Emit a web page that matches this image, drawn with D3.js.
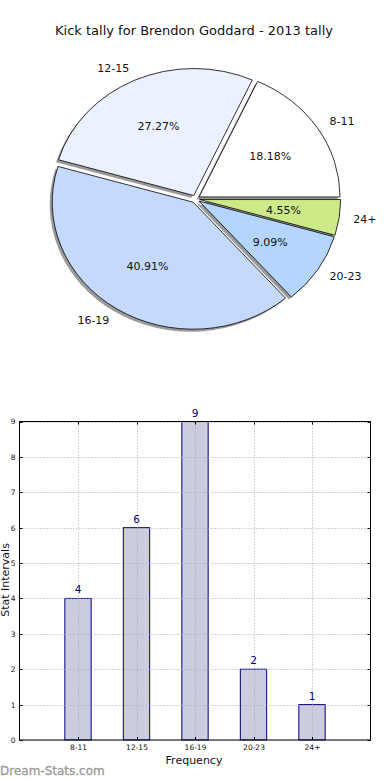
<!DOCTYPE html>
<html><head><meta charset="utf-8">
<script src="https://cdn.jsdelivr.net/npm/d3@7"></script>
<style>body{margin:0;background:#fff}svg{display:block}text{font-family:"DejaVu Sans",sans-serif}</style>
</head><body><div id="c"></div>
<script>
const categories = ["8-11","12-15","16-19","20-23","24+"];
const values = [4,6,9,2,1];
const pieColors = ["#ffffff","#ebf1fe","#c5d9fe","#b4d6fe","#cdea89"];
const yTicks = [0,1,2,3,4,5,6,7,8,9];
const title = "Kick tally for Brendon Goddard - 2013 tally";

const W=390,H=780;
const svg=d3.select("#c").append("svg").attr("width",W).attr("height",H);

svg.append("text").attr("x",194).attr("y",35).attr("text-anchor","middle")
  .attr("font-size",13).attr("fill","#111").text(title);

// Pie (elliptical, matplotlib style: start east, counterclockwise)
const cx=195.5, cy=199, rx=141, ry=127, explode=0.03;
const pie=d3.pie().sort(null).value(d=>d).startAngle(Math.PI/2).endAngle(Math.PI/2-2*Math.PI);
const arcs=pie(values);
const arc=d3.arc().innerRadius(0).outerRadius(ry);
const sx=rx/ry;
const total=d3.sum(values);
const pg=svg.append("g");
function mid(a){return Math.PI/2-(a.startAngle+a.endAngle)/2;}
function off(a){const t=mid(a);return [explode*rx*Math.cos(t),-explode*ry*Math.sin(t)];}
// shadows
arcs.forEach(a=>{const o=off(a);
  pg.append("path").attr("d",arc(a))
   .attr("transform",`translate(${cx+o[0]-2.5},${cy+o[1]+2.5}) scale(${sx},1)`)
   .attr("fill","#7a7a7a").attr("opacity",0.75);
});
arcs.forEach((a,i)=>{const o=off(a);
  pg.append("path").attr("d",arc(a))
   .attr("transform",`translate(${cx+o[0]},${cy+o[1]}) scale(${sx},1)`)
   .attr("fill",pieColors[i]).attr("stroke","#000").attr("stroke-width",0.8)
   .attr("vector-effect","non-scaling-stroke");
});
arcs.forEach((a,i)=>{const o=off(a),t=mid(a);
  const lx=cx+o[0]+1.1*rx*Math.cos(t), ly=cy+o[1]-1.1*ry*Math.sin(t);
  pg.append("text").attr("x",lx).attr("y",ly).attr("dy","0.35em")
   .attr("text-anchor",Math.cos(t)<0?"end":"start").attr("font-size",11).attr("fill","#111")
   .text(categories[i]);
  const px=cx+o[0]+0.6*rx*Math.cos(t), py=cy+o[1]-0.6*ry*Math.sin(t);
  pg.append("text").attr("x",px).attr("y",py).attr("dy","0.35em")
   .attr("text-anchor","middle").attr("font-size",11).attr("fill","#111")
   .text((values[i]/total*100).toFixed(2)+"%");
});

// Bar chart
const L=19.5,R=370.5,T=421.5,B=740;
const x=d3.scaleLinear().domain([0,6]).range([L,R]);
const y=d3.scaleLinear().domain([0,9]).range([B,T]);
const bg=svg.append("g");
const bw=0.45;
bg.selectAll("rect.bar").data(values).join("rect").attr("class","bar")
  .attr("x",(d,i)=>x(i+1-bw/2)).attr("width",x(bw)-x(0))
  .attr("y",d=>y(d)).attr("height",d=>B-y(d))
  .attr("fill","#ccccdf").attr("stroke","#000080").attr("stroke-width",1);
// grid
const grid=bg.append("g").attr("stroke","#a8a8a8").attr("stroke-width",1).attr("stroke-dasharray","1,2");
yTicks.forEach(v=>grid.append("line").attr("x1",L).attr("x2",R).attr("y1",Math.round(y(v))+0.5).attr("y2",Math.round(y(v))+0.5));
categories.forEach((c,i)=>grid.append("line").attr("x1",Math.round(x(i+1))+0.5).attr("x2",Math.round(x(i+1))+0.5).attr("y1",T).attr("y2",B));
// axes
const yAx=d3.axisLeft(y).tickValues(yTicks).tickSize(0).tickPadding(4);
bg.append("g").attr("transform",`translate(${L},0)`).call(yAx)
  .call(g=>g.select(".domain").remove())
  .selectAll("text").attr("font-size",7.5).attr("fill","#111").style("font-family","DejaVu Sans");
const xAx=d3.axisBottom(x).tickValues([1,2,3,4,5]).tickFormat(d=>categories[d-1]).tickSize(0).tickPadding(5);
bg.append("g").attr("transform",`translate(0,${B})`).call(xAx)
  .call(g=>g.select(".domain").remove())
  .selectAll("text").attr("font-size",7.5).attr("fill","#111").style("font-family","DejaVu Sans");
// tick marks inside
const tk=bg.append("g").attr("stroke","#000").attr("stroke-width",1);
yTicks.forEach(v=>{const yy=Math.round(y(v))+0.5;
  tk.append("line").attr("x1",L).attr("x2",L+3).attr("y1",yy).attr("y2",yy);
  tk.append("line").attr("x1",R-3).attr("x2",R).attr("y1",yy).attr("y2",yy);});
[1,2,3,4,5].forEach(v=>{const xx=Math.round(x(v))+0.5;
  tk.append("line").attr("x1",xx).attr("x2",xx).attr("y1",B).attr("y2",B-3);
  tk.append("line").attr("x1",xx).attr("x2",xx).attr("y1",T).attr("y2",T+3);});
bg.append("rect").attr("x",L).attr("y",T).attr("width",R-L).attr("height",B-T)
  .attr("fill","none").attr("stroke","#000").attr("stroke-width",1);
// value labels
bg.selectAll("text.val").data(values).join("text").attr("class","val")
  .attr("x",(d,i)=>x(i+1)).attr("y",d=>y(d)-5).attr("text-anchor","middle")
  .attr("font-size",10.5).attr("fill","#000080").text(d=>d);
// axis titles
svg.append("text").attr("x",194).attr("y",764).attr("text-anchor","middle")
  .attr("font-size",11).attr("fill","#111").text("Frequency");
svg.append("text").attr("transform","translate(9,580) rotate(-90)").attr("text-anchor","middle")
  .attr("font-size",11).attr("fill","#111").text("Stat Intervals");
// watermark
svg.append("text").attr("x",0).attr("y",775).attr("font-size",12)
  .attr("fill","#999").attr("stroke","#999").attr("stroke-width",0.3).text("Dream-Stats.com");
</script></body></html>
